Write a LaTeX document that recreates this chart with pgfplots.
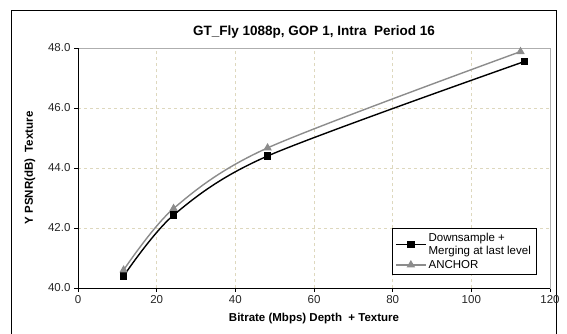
\documentclass[border=0pt]{standalone}
\usepackage{pgfplots}
\pgfplotsset{compat=1.18}
\usepackage{fontspec}
\setmainfont{Liberation Sans}
\definecolor{gridc}{RGB}{222,216,190}
\definecolor{anchorc}{RGB}{140,140,140}
\begin{document}
\begin{tikzpicture}[x=1pt,y=1pt]
\path[use as bounding box] (0,0) rectangle (567,333);
\draw[black, line width=0.8pt] (11,-5) -- (11,323) -- (556,323) -- (556,-5);
\begin{axis}[
  at={(78pt,45pt)}, anchor=south west,
  scale only axis, width=472pt, height=240pt,
  xmin=0, xmax=120, ymin=40, ymax=48,
  xtick={0,20,...,120}, ytick={40,42,...,48},
  tick pos=left, tick align=outside,
  major tick length=4pt,
  tick style={black, line width=0.6pt},
  axis line style={anchorc!70, line width=0.6pt},
  grid=major,
  major grid style={dashed, gridc, line width=0.6pt},
  /pgf/number format/assume math mode=true,
  ticklabel style={font=\fontsize{11.5}{13}\selectfont, text=black!85},
  yticklabel style={/pgf/number format/.cd, fixed, fixed zerofill, precision=1},
  title={\textbf{GT\_Fly 1088p, GOP 1, Intra\ \ Period 16}},
  title style={font=\fontsize{13.5}{15}\selectfont, yshift=0pt},
  xlabel={\textbf{Bitrate (Mbps) Depth\ \ + Texture}},
  ylabel={\textbf{Y PSNR(dB)\ \ Texture}},
  label style={font=\fontsize{11.5}{13}\selectfont},
  xlabel style={yshift=-3pt},
  ylabel style={yshift=6pt},
  legend style={at={(rel axis cs:0.665,0.25)}, anchor=north west,
    font=\fontsize{11.5}{13}\selectfont, draw=black, line width=0.6pt,
    cells={align=left, anchor=west}, inner xsep=3pt, inner ysep=3pt, row sep=0pt},
  legend cell align=left,
  legend image code/.code={\draw[mark repeat=2,mark phase=2,#1] plot coordinates {(0pt,0pt) (15pt,0pt) (30pt,0pt)};},
]
\addplot[black, line width=1.4pt, smooth, tension=0.5, mark=square*, mark size=3pt, mark options={solid}]
  coordinates {(11.6,40.4) (24.3,42.43) (48.2,44.4) (113.5,47.55)};
\addlegendentry{Downsample +\\Merging at last level}
\addplot[anchorc, line width=1.4pt, smooth, tension=0.5, mark=triangle*, mark size=3.5pt]
  coordinates {(11.6,40.6) (24.3,42.65) (48.2,44.67) (112.5,47.88)};
\addlegendentry{ANCHOR}
\end{axis}
\draw[black, line width=0.7pt] (78,45) -- (78,285);
\draw[black, line width=0.7pt] (78,45) -- (550,45);
\end{tikzpicture}
\end{document}
